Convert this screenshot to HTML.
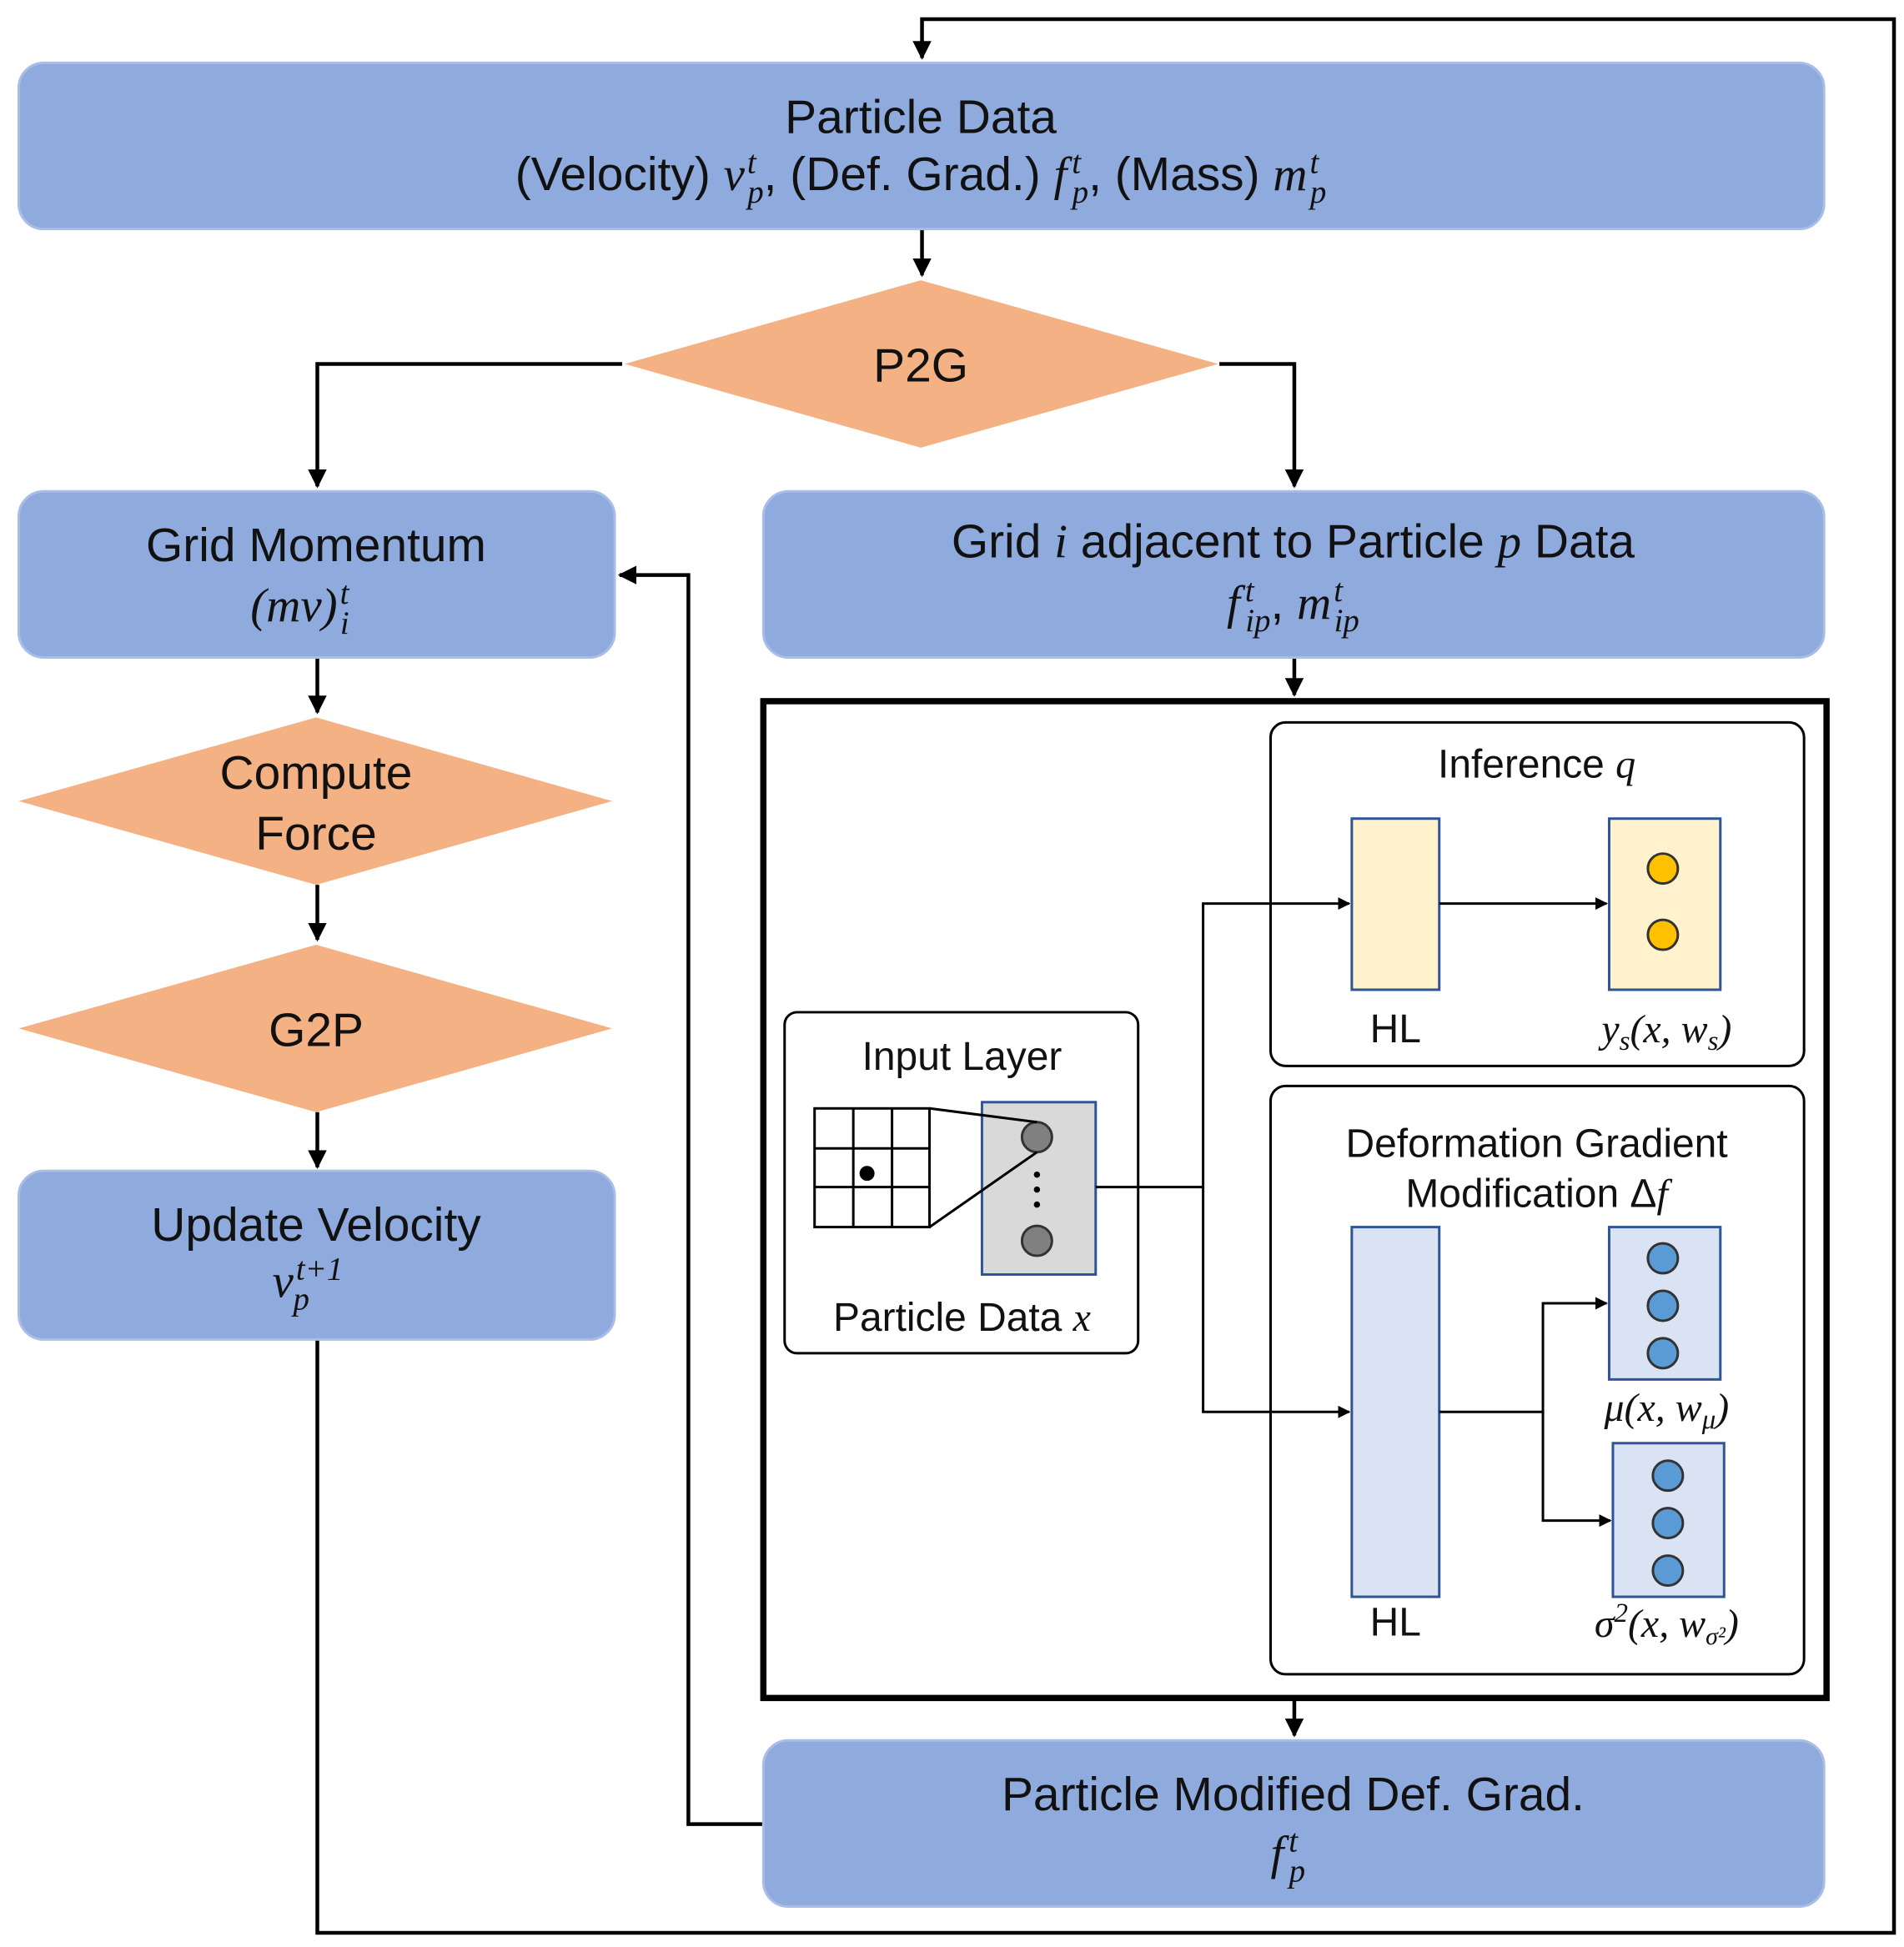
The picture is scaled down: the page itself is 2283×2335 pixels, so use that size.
<!DOCTYPE html>
<html><head><meta charset="utf-8"><style>
html,body{margin:0;padding:0;background:#fff;}
svg{display:block;}
.t{font-family:"Liberation Sans",sans-serif;fill:#111;}
.m{font-family:"Liberation Serif",serif;font-style:italic;fill:#111;}
</style></head><body>
<svg width="2283" height="2335" viewBox="0 0 1524 1558" xmlns="http://www.w3.org/2000/svg">
<defs><marker id="a" viewBox="0 0 10 10" refX="9" refY="5" markerWidth="5" markerHeight="5" orient="auto"><path d="M0,0L10,5L0,10z" fill="#000"/></marker></defs>
<g fill="none" stroke="#000" stroke-width="3">
<path d="M254,1072V1547H1516V15H738V46" marker-end="url(#a)"/>
<path d="M738,183V220" marker-end="url(#a)"/>
<path d="M498,291H254V389" marker-end="url(#a)"/>
<path d="M976,291H1036V389" marker-end="url(#a)"/>
<path d="M254,526V570" marker-end="url(#a)"/>
<path d="M254,708V752" marker-end="url(#a)"/>
<path d="M254,890V934" marker-end="url(#a)"/>
<path d="M1036,526V556" marker-end="url(#a)"/>
<path d="M1036,1359V1389" marker-end="url(#a)"/>
<path d="M611,1460H551V460H496" marker-end="url(#a)"/>
</g>
<g fill="#8faadc" stroke="#a9bde6" stroke-width="2">
<rect x="15" y="50" width="1445" height="133" rx="20"/>
<rect x="15" y="393" width="477" height="133" rx="20"/>
<rect x="611" y="393" width="849" height="133" rx="20"/>
<rect x="15" y="937" width="477" height="135" rx="20"/>
<rect x="611" y="1393" width="849" height="133" rx="20"/>
</g>
<g fill="#f4b183">
<polygon points="500,291 737,224 975,291 737,358"/>
<polygon points="15,641 253,574 490,641 253,708"/>
<polygon points="15,823 253,756 490,823 253,890"/>
</g>
<rect x="611" y="561" width="851" height="798" fill="none" stroke="#000" stroke-width="5"/>
<rect x="1017" y="578" width="427" height="275" rx="12" fill="none" stroke="#000" stroke-width="2"/>
<rect x="1017" y="869" width="427" height="471" rx="12" fill="none" stroke="#000" stroke-width="2"/>
<rect x="628" y="810" width="283" height="273" rx="10" fill="none" stroke="#000" stroke-width="2"/>
<g stroke="#2f5597" stroke-width="2">
<rect x="1082" y="655" width="70" height="137" fill="#fff2cc"/>
<rect x="1288" y="655" width="89" height="137" fill="#fff2cc"/>
<rect x="1082" y="982" width="70" height="296" fill="#dae3f3"/>
<rect x="1288" y="982" width="89" height="122" fill="#dae3f3"/>
<rect x="1291" y="1155" width="89" height="123" fill="#dae3f3"/>
<rect x="786" y="882" width="91" height="138" fill="#d9d9d9"/>
</g>
<g stroke="#333" stroke-width="2">
<circle cx="1331" cy="695" r="12" fill="#ffc000"/><circle cx="1331" cy="748" r="12" fill="#ffc000"/>
<circle cx="1331" cy="1007" r="12" fill="#5b9bd5"/><circle cx="1331" cy="1045" r="12" fill="#5b9bd5"/><circle cx="1331" cy="1083" r="12" fill="#5b9bd5"/>
<circle cx="1335" cy="1181" r="12" fill="#5b9bd5"/><circle cx="1335" cy="1219" r="12" fill="#5b9bd5"/><circle cx="1335" cy="1257" r="12" fill="#5b9bd5"/>
<circle cx="830" cy="910" r="12" fill="#808080"/><circle cx="830" cy="993" r="12" fill="#808080"/>
</g>
<g fill="#000"><circle cx="830" cy="940" r="2.5"/><circle cx="830" cy="952" r="2.5"/><circle cx="830" cy="964" r="2.5"/><circle cx="694" cy="939" r="6"/></g>
<g fill="none" stroke="#000" stroke-width="2">
<rect x="652" y="887" width="92" height="95"/>
<path d="M683,887V982M714,887V982M652,919H744M652,950H744"/>
<path d="M744,887L830,898M744,982L830,922"/>
<path d="M877,950H963V723H1080" marker-end="url(#a)"/>
<path d="M963,950V1130H1080" marker-end="url(#a)"/>
<path d="M1152,723H1286" marker-end="url(#a)"/>
<path d="M1152,1130H1235V1043H1286" marker-end="url(#a)"/>
<path d="M1235,1130V1217H1289" marker-end="url(#a)"/>
</g>
<text class="t" x="737" y="106" font-size="38" text-anchor="middle">Particle Data</text>
<text x="737" y="152" font-size="38" text-anchor="middle"><tspan class="t">(Velocity) </tspan><tspan class="m">v<tspan font-size="26" dx="2" dy="-14">t</tspan><tspan font-size="26" dx="-7" dy="24">p</tspan></tspan><tspan class="t" dy="-10">, (Def. Grad.) </tspan><tspan class="m">f<tspan font-size="26" dx="4" dy="-14">t</tspan><tspan font-size="26" dx="-7" dy="24">p</tspan></tspan><tspan class="t" dy="-10">, (Mass) </tspan><tspan class="m">m<tspan font-size="26" dx="2" dy="-14">t</tspan><tspan font-size="26" dx="-7" dy="24">p</tspan></tspan></text>
<text class="t" x="737" y="305" font-size="38" text-anchor="middle">P2G</text>
<text class="t" x="253" y="449" font-size="38" text-anchor="middle">Grid Momentum</text>
<text class="m" x="240" y="497" font-size="38" text-anchor="middle">(mv)<tspan font-size="26" dx="2" dy="-14">t</tspan><tspan font-size="26" dx="-7" dy="24">i</tspan></text>
<text x="1035" y="446" font-size="38" text-anchor="middle"><tspan class="t">Grid </tspan><tspan class="m">i</tspan><tspan class="t"> adjacent to Particle </tspan><tspan class="m">p</tspan><tspan class="t"> Data</tspan></text>
<text x="1035" y="495" font-size="38" text-anchor="middle"><tspan class="m">f<tspan font-size="26" dx="4" dy="-14">t</tspan><tspan font-size="26" dx="-7" dy="24">ip</tspan></tspan><tspan class="t" dy="-10">, </tspan><tspan class="m">m<tspan font-size="26" dx="2" dy="-14">t</tspan><tspan font-size="26" dx="-7" dy="24">ip</tspan></tspan></text>
<text class="t" x="253" y="631" font-size="38" text-anchor="middle">Compute</text>
<text class="t" x="253" y="680" font-size="38" text-anchor="middle">Force</text>
<text class="t" x="253" y="837" font-size="38" text-anchor="middle">G2P</text>
<text class="t" x="253" y="993" font-size="38" text-anchor="middle">Update Velocity</text>
<text class="m" x="218" y="1038" font-size="38">v<tspan font-size="26" dx="2" dy="-14">t+1</tspan><tspan font-size="26" dx="-40" dy="24">p</tspan></text>
<text class="t" x="1035" y="1449" font-size="38" text-anchor="middle">Particle Modified Def. Grad.</text>
<text class="m" x="1017" y="1496" font-size="38">f<tspan font-size="26" dx="4" dy="-14">t</tspan><tspan font-size="26" dx="-7" dy="24">p</tspan></text>
<text x="1230" y="622" font-size="32" text-anchor="middle"><tspan class="t">Inference </tspan><tspan class="m">q</tspan></text>
<text class="t" x="1117" y="834" font-size="32" text-anchor="middle">HL</text>
<text class="m" x="1334" y="834" font-size="32" text-anchor="middle">y<tspan font-size="22" dy="6">s</tspan><tspan dy="-6">(x, w</tspan><tspan font-size="22" dy="6">s</tspan><tspan dy="-6">)</tspan></text>
<text class="t" x="1230" y="926" font-size="32" text-anchor="middle">Deformation Gradient</text>
<text x="1230" y="966" font-size="32" text-anchor="middle"><tspan class="t">Modification Δ</tspan><tspan class="m">f</tspan></text>
<text class="m" x="1334" y="1137" font-size="32" text-anchor="middle">μ(x, w<tspan font-size="22" dy="6">μ</tspan><tspan dy="-6">)</tspan></text>
<text class="t" x="1117" y="1309" font-size="32" text-anchor="middle">HL</text>
<text class="m" x="1334" y="1310" font-size="32" text-anchor="middle">σ<tspan font-size="22" dy="-12">2</tspan><tspan dy="12">(x, w</tspan><tspan font-size="20" dy="6">σ²</tspan><tspan dy="-6">)</tspan></text>
<text class="t" x="770" y="856" font-size="32" text-anchor="middle">Input Layer</text>
<text x="770" y="1065" font-size="32" text-anchor="middle"><tspan class="t">Particle Data </tspan><tspan class="m">x</tspan></text>
</svg>
</body></html>
